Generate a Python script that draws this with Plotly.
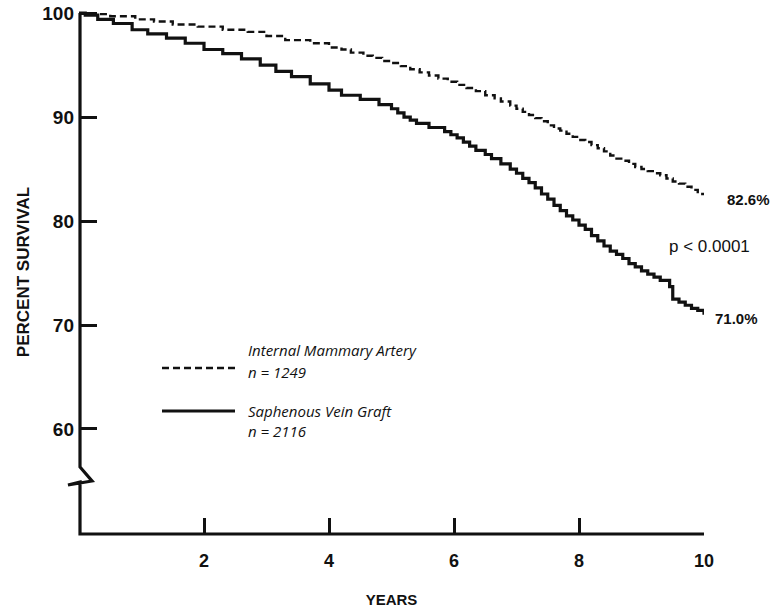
import plotly.graph_objects as go

# Kaplan-Meier survival after coronary bypass, by conduit type
ima_years = [0.0, 0.15, 0.5, 0.9, 1.2, 1.5, 1.9, 2.3, 2.7, 3.0, 3.3, 3.7, 4.0, 4.2,
             4.35, 4.55, 4.7, 4.85, 5.0, 5.15, 5.3, 5.45, 5.6, 5.75, 5.9, 6.05, 6.2,
             6.35, 6.5, 6.65, 6.75, 6.9, 7.0, 7.1, 7.2, 7.3, 7.4, 7.5, 7.6, 7.7, 7.8,
             7.9, 8.0, 8.1, 8.2, 8.3, 8.4, 8.5, 8.6, 8.7, 8.8, 8.9, 9.0, 9.1, 9.2,
             9.3, 9.4, 9.5, 9.6, 9.7, 9.8, 9.9, 10.0]
ima_surv = [100.0, 99.9, 99.7, 99.4, 99.2, 98.9, 98.7, 98.4, 98.2, 97.8, 97.4, 97.1,
            96.7, 96.5, 96.2, 95.9, 95.7, 95.4, 95.2, 94.9, 94.6, 94.3, 94.0, 93.7,
            93.4, 93.1, 92.8, 92.5, 92.1, 91.8, 91.5, 91.1, 90.8, 90.5, 90.2, 89.9,
            89.6, 89.2, 88.9, 88.7, 88.4, 88.1, 87.8, 87.6, 87.3, 87.0, 86.7, 86.3,
            86.0, 85.8, 85.5, 85.2, 85.0, 84.8, 84.6, 84.4, 84.1, 83.8, 83.6, 83.3,
            83.0, 82.6, 82.6]

svg_years = [0.0, 0.1, 0.3, 0.55, 0.85, 1.1, 1.4, 1.7, 2.0, 2.3, 2.6, 2.9, 3.15, 3.4,
             3.7, 4.0, 4.2, 4.5, 4.8, 5.0, 5.1, 5.2, 5.3, 5.4, 5.6, 5.85, 5.95, 6.05,
             6.15, 6.25, 6.35, 6.5, 6.6, 6.75, 6.9, 7.0, 7.1, 7.2, 7.3, 7.4, 7.5,
             7.6, 7.7, 7.8, 7.9, 8.0, 8.1, 8.2, 8.3, 8.4, 8.5, 8.6, 8.7, 8.8, 8.9,
             9.0, 9.1, 9.2, 9.3, 9.45, 9.5, 9.6, 9.7, 9.8, 9.9, 10.0]
svg_surv = [100.0, 99.8, 99.4, 99.0, 98.4, 98.0, 97.6, 97.1, 96.5, 96.1, 95.6, 95.0,
            94.4, 93.9, 93.2, 92.6, 92.1, 91.7, 91.2, 90.8, 90.4, 90.0, 89.7, 89.4,
            89.0, 88.6, 88.3, 88.0, 87.6, 87.2, 86.8, 86.4, 86.0, 85.5, 85.0, 84.6,
            84.1, 83.7, 83.2, 82.6, 82.1, 81.5, 81.0, 80.5, 80.1, 79.6, 79.2, 78.6,
            78.1, 77.6, 77.1, 76.8, 76.4, 75.9, 75.6, 75.2, 74.9, 74.6, 74.3, 73.7,
            72.5, 72.2, 71.9, 71.6, 71.4, 71.0]

ima_label = "Internal Mammary Artery"
ima_n = "n = 1249"
svg_label = "Saphenous Vein Graft"
svg_n = "n = 2116"
p_text = "p < 0.0001"

x_ticks = [2, 4, 6, 8, 10]
y_ticks = [60, 70, 80, 90, 100]

W, H = 773, 613
L, R, T, B = 79, 69, 10, 79
PW, PH = W - L - R, H - T - B


def px_x(p):
    return (p - L) / PW


def px_y(p):
    return (H - B - p) / PH


FONT = "Liberation Sans"
INK = "#111111"

fig = go.Figure()
fig.add_trace(go.Scatter(
    x=ima_years, y=ima_surv, mode="lines", line_shape="hv",
    line=dict(color=INK, width=2.4, dash="7px,4px"), cliponaxis=False,
    name=ima_label, showlegend=False))
fig.add_trace(go.Scatter(
    x=svg_years, y=svg_surv, mode="lines", line_shape="hv",
    line=dict(color=INK, width=3.2), cliponaxis=False,
    name=svg_label, showlegend=False))

# axis frame with the broken y axis
axis_pts = [(80, 13), (80, 467), (92, 481), (68, 485), (80, 482), (80, 534), (704, 534)]
path = "M " + " L ".join(f"{px_x(a):.5f},{px_y(b):.5f}" for a, b in axis_pts)
shapes = [dict(type="path", path=path, xref="paper", yref="paper",
               line=dict(color=INK, width=3.2))]

# legend samples
shapes.append(dict(type="line", xref="paper", yref="paper",
                   x0=px_x(162), x1=px_x(236), y0=px_y(368), y1=px_y(368),
                   line=dict(color=INK, width=2.4, dash="7px,4px")))
shapes.append(dict(type="line", xref="paper", yref="paper",
                   x0=px_x(162), x1=px_x(235), y0=px_y(411), y1=px_y(411),
                   line=dict(color=INK, width=3.2)))

legend_font = dict(family="Open Sans", size=15, color=INK, style="italic")
annotations = []
for txt, yy in [(ima_label, 350), (ima_n, 372), (svg_label, 411), (svg_n, 431)]:
    annotations.append(dict(text=txt, xref="paper", yref="paper", x=px_x(246),
                            y=px_y(yy), xanchor="left", yanchor="middle",
                            showarrow=False, font=legend_font))

end_font = dict(family=FONT, size=15, color=INK, weight="bold")
annotations.append(dict(text=f"{ima_surv[-1]:.1f}%", xref="paper", yref="y",
                        x=px_x(725), y=ima_surv[-1], yshift=-5, xanchor="left",
                        yanchor="middle", showarrow=False, font=end_font))
annotations.append(dict(text=f"{svg_surv[-1]:.1f}%", xref="paper", yref="y",
                        x=px_x(713), y=svg_surv[-1], yshift=-4, xanchor="left",
                        yanchor="middle", showarrow=False, font=end_font))
annotations.append(dict(text=p_text, xref="paper", yref="paper",
                        x=px_x(667), y=px_y(246), xanchor="left", yanchor="middle",
                        showarrow=False, font=dict(family=FONT, size=17, color=INK)))

fig.update_layout(
    width=W, height=H, margin=dict(l=L, r=R, t=T, b=B, autoexpand=False),
    paper_bgcolor="white", plot_bgcolor="white",
    shapes=shapes, annotations=annotations, showlegend=False,
    xaxis=dict(range=[0, 10], tickvals=x_ticks, ticktext=[str(v) for v in x_ticks],
               ticks="inside", ticklen=16, tickwidth=2.5, tickcolor=INK,
               showline=False, showgrid=False, zeroline=False,
               tickfont=dict(family=FONT, size=18, color=INK, weight="bold"),
               ticklabelstandoff=14,
               title=dict(text="YEARS", standoff=24,
                          font=dict(family=FONT, size=15, color=INK, weight="bold"))),
    yaxis=dict(range=[49.9, 100.3], tickvals=y_ticks, ticktext=[str(v) for v in y_ticks],
               ticks="inside", ticklen=18, tickwidth=2.5, tickcolor=INK,
               showline=False, showgrid=False, zeroline=False,
               tickfont=dict(family=FONT, size=19, color=INK, weight="bold"),
               ticklabelstandoff=4,
               title=dict(text="PERCENT SURVIVAL", standoff=8,
                          font=dict(family=FONT, size=17, color=INK, weight="bold"))),
)

fig.write_html("out.html")
